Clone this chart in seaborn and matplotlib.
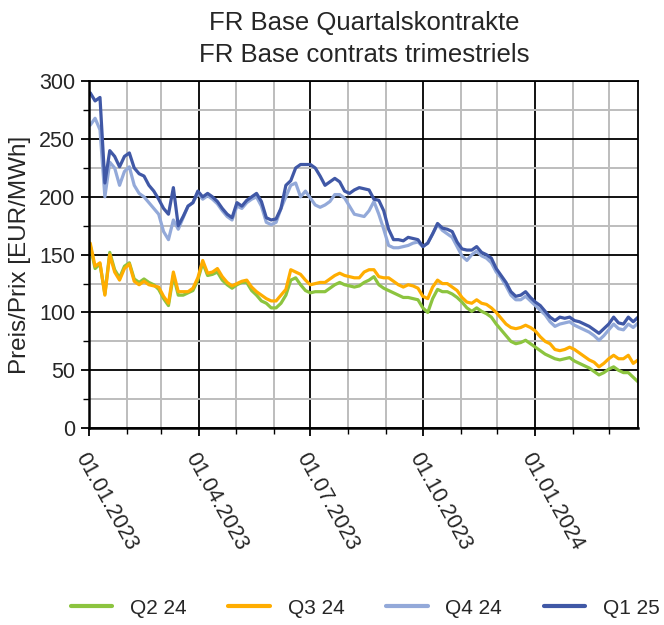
import pandas as pd
import seaborn as sns
import matplotlib.pyplot as plt
import matplotlib.dates as mdates
from matplotlib.ticker import MultipleLocator

# trading snapshots every 4 days, from 02.01.2023 on
dates = pd.date_range("2023-01-02", periods=113, freq="4D")

q2_24 = [158, 138, 142, 116, 152, 137, 130, 140, 143, 129, 126, 129, 126, 124, 120, 112, 106, 132, 115, 115,
         117, 119, 128, 143, 132, 133, 135, 128, 124, 121, 124, 126, 126, 119, 115, 110, 108, 104, 104, 108,
         115, 128, 130, 124, 119, 117, 118, 118, 118, 121, 124, 126, 124, 123, 122, 123, 126, 128, 131, 124,
         121, 119, 117, 115, 113, 113, 112, 111, 104, 100, 112, 120, 118, 118, 116, 113, 109, 104, 101, 104,
         101, 99, 96, 90, 85, 80, 75, 73, 74, 76, 73, 70, 67, 64, 62, 60, 59, 60, 61, 58,
         56, 54, 52, 49, 46, 48, 51, 53, 50, 48, 48, 44, 40]
q3_24 = [160, 140, 143, 115, 150, 135, 128, 138, 142, 127, 124, 127, 124, 123, 122, 114, 108, 135, 118, 118,
         118, 121, 130, 145, 134, 135, 138, 131, 126, 123, 125, 127, 128, 122, 118, 115, 112, 110, 110, 115,
         120, 137, 135, 133, 128, 124, 125, 126, 126, 129, 132, 134, 132, 131, 130, 130, 135, 137, 137, 131,
         130, 130, 127, 124, 122, 124, 123, 121, 114, 112, 122, 128, 125, 125, 122, 119, 113, 109, 108, 111,
         108, 107, 104, 100, 95, 90, 87, 86, 87, 89, 87, 84, 79, 75, 73, 68, 67, 68, 70, 68,
         65, 62, 59, 57, 53, 56, 60, 63, 60, 60, 63, 56, 59]
q4_24 = [262, 268, 258, 200, 230, 225, 210, 222, 226, 210, 203, 200, 195, 190, 185, 170, 163, 180, 172, 182,
         192, 195, 203, 198, 201, 198, 194, 188, 183, 180, 192, 190, 195, 198, 200, 192, 178, 176, 178, 190,
         200, 210, 212, 200, 205, 199, 193, 191, 193, 196, 202, 202, 199, 192, 185, 184, 183, 188, 196, 185,
         172, 158, 156, 156, 157, 158, 160, 161, 157, 160, 168, 176, 171, 168, 165, 157, 149, 145, 150, 153,
         149, 147, 143, 135, 130, 123, 115, 111, 111, 114, 110, 106, 102, 98, 92, 88, 90, 91, 92, 89,
         87, 85, 83, 80, 76, 80, 85, 90, 86, 85, 90, 87, 91]
q1_25 = [290, 283, 286, 212, 240, 235, 226, 235, 238, 225, 220, 218, 210, 205, 198, 190, 185, 208, 175, 183,
         192, 195, 205, 200, 203, 200, 196, 190, 185, 182, 195, 192, 197, 200, 203, 196, 182, 180, 181, 190,
         210, 214, 225, 228, 228, 228, 225, 218, 210, 213, 216, 213, 205, 203, 206, 208, 207, 206, 198, 197,
         188, 172, 163, 163, 162, 165, 164, 163, 157, 160, 168, 177, 173, 172, 170, 161, 155, 154, 154, 157,
         152, 150, 147, 138, 132, 126, 118, 114, 115, 118, 113, 109, 106, 101, 96, 93, 96, 95, 96, 93,
         92, 90, 88, 85, 82, 86, 90, 96, 91, 90, 96, 92, 96]

series = ["Q2 24", "Q3 24", "Q4 24", "Q1 25"]
colors = {"Q2 24": "#8cc43f", "Q3 24": "#ffad00", "Q4 24": "#93a9d9", "Q1 25": "#4058a6"}

df = pd.DataFrame({"Datum": dates, "Q2 24": q2_24, "Q3 24": q3_24, "Q4 24": q4_24, "Q1 25": q1_25})
long = df.melt(id_vars="Datum", var_name="Kontrakt", value_name="Preis")

sns.set_style("white")
plt.rcParams["font.family"] = ["Liberation Sans", "DejaVu Sans"]

fig = plt.figure(figsize=(6.64, 6.25), dpi=100)
ax = fig.add_axes([0.134, 0.315, 0.827, 0.555])

# grid first so it sits under the lines
ax.set_axisbelow(True)
sns.lineplot(data=long, x="Datum", y="Preis", hue="Kontrakt", hue_order=series,
             palette=colors, linewidth=2.3, ax=ax, legend=False)

ax.set_xlim(pd.Timestamp("2023-01-01"), pd.Timestamp("2024-03-25"))
ax.set_ylim(0, 300)
ax.yaxis.set_major_locator(MultipleLocator(50))
ax.yaxis.set_minor_locator(MultipleLocator(25))
ax.xaxis.set_major_locator(mdates.MonthLocator(bymonth=[1, 4, 7, 10]))
ax.xaxis.set_minor_locator(mdates.MonthLocator())
ax.xaxis.set_major_formatter(mdates.DateFormatter("%d.%m.%Y"))

ax.grid(which="minor", color="#bdbdbd", linewidth=1.4)
ax.grid(which="major", color="black", linewidth=1.3)
for s in ax.spines.values():
    s.set_color("black")
    s.set_linewidth(1.3)
ax.spines["left"].set_linewidth(1.8)
ax.spines["bottom"].set_linewidth(1.8)

ax.tick_params(axis="both", which="major", length=6, width=1.3, color="black", direction="out",
               labelsize=15.5, bottom=True, left=True)
ax.tick_params(axis="y", which="major", pad=4)
ax.tick_params(axis="x", which="major", pad=9)
ax.tick_params(axis="both", which="minor", length=4, width=1.0, color="black", direction="out",
               bottom=True, left=True)
for lab in ax.get_xticklabels():
    lab.set_rotation(-61)
    lab.set_rotation_mode("anchor")
    lab.set_ha("left")
    lab.set_va("top")

ax.set_xlabel("")
ax.set_ylabel("Preis/Prix [EUR/MWh]", fontsize=17.5, labelpad=6)
fig.suptitle("FR Base Quartalskontrakte\nFR Base contrats trimestriels", fontsize=18.5,
             x=0.548, y=0.982, linespacing=1.4)

handles = [plt.Line2D([], [], color=colors[k], linewidth=3) for k in series]
fig.legend(handles, series, loc="center", bbox_to_anchor=(0.55, 0.027), ncol=4, frameon=False,
           fontsize=15, handlelength=2.0, columnspacing=2.0, handletextpad=0.85)

fig.savefig("out.png", dpi=100)
